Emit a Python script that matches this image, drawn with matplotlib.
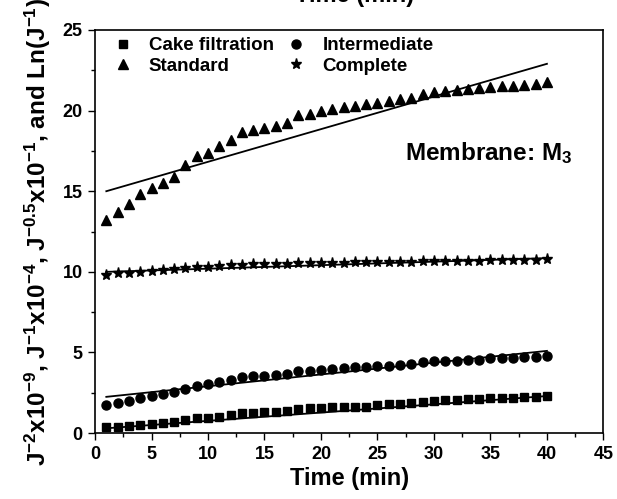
import numpy as np
import matplotlib
matplotlib.use('Agg')
import matplotlib.pyplot as plt
from matplotlib.ticker import MultipleLocator

plt.rcParams['font.family'] = ['Liberation Sans', 'DejaVu Sans']
plt.rcParams['font.weight'] = 'bold'
plt.rcParams['mathtext.fontset'] = 'custom'
plt.rcParams['mathtext.rm'] = 'Liberation Sans:bold'
plt.rcParams['mathtext.bf'] = 'Liberation Sans:bold'
plt.rcParams['mathtext.it'] = 'Liberation Sans:bold'
plt.rcParams['mathtext.default'] = 'bf'

## time axis (min)
time = np.arange(1, 41)

## linearised flux data for each blocking model
cake = [0.35, 0.38, 0.42, 0.50, 0.56, 0.60, 0.71, 0.81, 0.92, 0.96,
        1.02, 1.10, 1.23, 1.27, 1.31, 1.33, 1.38, 1.48, 1.54, 1.58,
        1.60, 1.62, 1.65, 1.65, 1.75, 1.79, 1.83, 1.85, 1.96, 2.02,
        2.06, 2.06, 2.10, 2.10, 2.15, 2.17, 2.19, 2.21, 2.23, 2.31]
intermediate = [1.75, 1.85, 2.02, 2.17, 2.31, 2.42, 2.54, 2.73, 2.94, 3.06,
                3.17, 3.31, 3.46, 3.52, 3.56, 3.63, 3.69, 3.83, 3.88, 3.94,
                4.00, 4.04, 4.08, 4.10, 4.15, 4.19, 4.25, 4.29, 4.40, 4.46,
                4.46, 4.50, 4.52, 4.56, 4.63, 4.67, 4.67, 4.71, 4.73, 4.81]
standard = [13.2, 13.7, 14.2, 14.8, 15.2, 15.5, 15.9, 16.6, 17.2, 17.4,
            17.8, 18.2, 18.7, 18.8, 18.9, 19.05, 19.25, 19.7, 19.8, 20.0,
            20.1, 20.2, 20.3, 20.4, 20.5, 20.6, 20.7, 20.8, 21.0, 21.15,
            21.2, 21.3, 21.35, 21.4, 21.45, 21.5, 21.55, 21.6, 21.65, 21.75]
complete = [9.82, 9.90, 9.92, 9.98, 10.05, 10.10, 10.15, 10.25, 10.30, 10.32,
            10.35, 10.40, 10.45, 10.46, 10.48, 10.50, 10.51, 10.53, 10.55, 10.56,
            10.57, 10.58, 10.59, 10.60, 10.61, 10.62, 10.63, 10.64, 10.65, 10.66,
            10.67, 10.68, 10.69, 10.70, 10.71, 10.72, 10.73, 10.74, 10.75, 10.78]

## end points of the linear fits (t = 1 and t = 40)
fit_t = [1, 40]
cake_fit = [0.30, 2.30]
intermediate_fit = [2.25, 5.10]
standard_fit = [15.0, 22.9]
complete_fit = [10.0, 10.85]

fig = plt.figure(figsize=(6.17, 4.99), dpi=100)
ax = fig.add_axes([0.154, 0.132, 0.824, 0.808])

## fitted lines
for fit in [cake_fit, intermediate_fit, standard_fit, complete_fit]:
    ax.plot(fit_t, fit, color='k', linewidth=1.3, zorder=2)

## data points
ax.plot(time, cake, 's', color='k', markersize=5.5, label='Cake filtration', zorder=3)
ax.plot(time, standard, '^', color='k', markersize=7.5, label='Standard', zorder=3)
ax.plot(time, intermediate, 'o', color='k', markersize=6.5, label='Intermediate', zorder=3)
ax.plot(time, complete, '*', color='k', markersize=8, label='Complete', zorder=3)

ax.set_xlim(0, 45)
ax.set_ylim(0, 25)
ax.xaxis.set_major_locator(MultipleLocator(5))
ax.xaxis.set_minor_locator(MultipleLocator(2.5))
ax.yaxis.set_major_locator(MultipleLocator(5))
ax.yaxis.set_minor_locator(MultipleLocator(2.5))
ax.tick_params(which='major', direction='out', length=5, width=1, labelsize=13, pad=4)
ax.tick_params(which='minor', direction='out', length=3, width=1)
for lbl in ax.get_xticklabels() + ax.get_yticklabels():
    lbl.set_fontweight('bold')
for spine in ax.spines.values():
    spine.set_linewidth(1.2)

ax.set_xlabel('Time (min)', fontsize=17, fontweight='bold', labelpad=3)
ax.set_ylabel(r'J$^{-2}$x10$^{-9}$, J$^{-1}$x10$^{-4}$, J$^{-0.5}$x10$^{-1}$, and Ln(J$^{-1}$)',
              fontsize=17.5, fontweight='bold', labelpad=7)

ax.legend(ncol=2, loc='upper left', bbox_to_anchor=(0.01, 1.015), frameon=False,
          fontsize=13.5, handlelength=1.0, handletextpad=0.9, columnspacing=0.7,
          labelspacing=0.2, borderaxespad=0.2, borderpad=0.5)

ax.text(0.61, 0.695, r'Membrane: M$_3$', transform=ax.transAxes,
        fontsize=17.5, fontweight='bold', ha='left', va='center')

## top axis title, mostly outside the canvas
fig.text(0.575, 0.996, 'Time (min)', fontsize=17, fontweight='bold',
         ha='center', va='baseline')

fig.savefig('out.png', dpi=100)
